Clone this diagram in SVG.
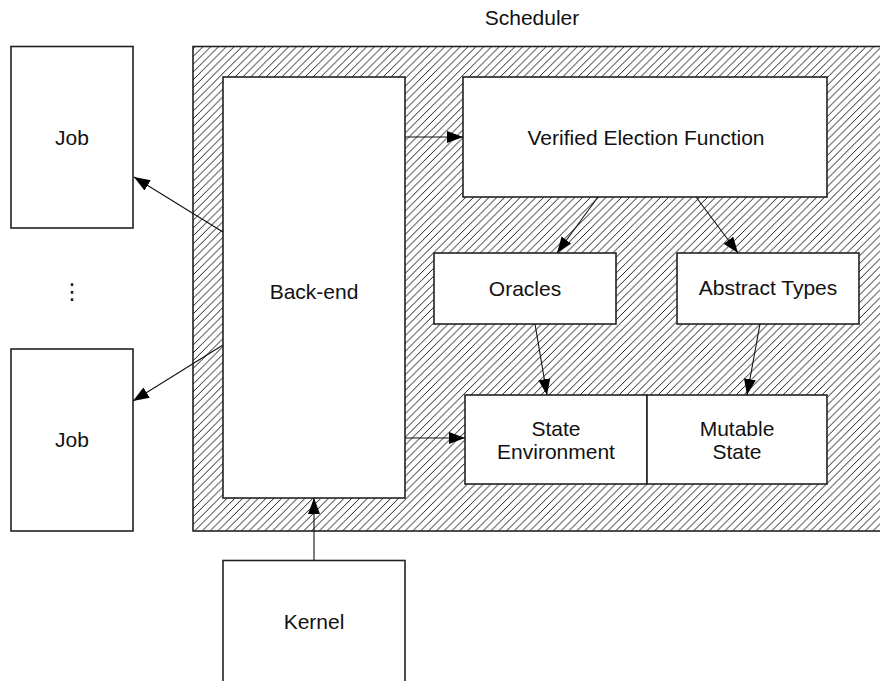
<svg xmlns="http://www.w3.org/2000/svg" width="880" height="681" viewBox="0 0 880 681">
<defs>
<pattern id="hatch" patternUnits="userSpaceOnUse" width="7.8" height="7.8">
<path d="M0,7.8 L7.8,0 M-1,1 L1,-1 M6.8,8.8 L8.8,6.8" stroke="#000" stroke-width="0.9"/>
</pattern>
<marker id="arr" markerUnits="userSpaceOnUse" markerWidth="17" markerHeight="13" refX="16" refY="6" orient="auto">
<path d="M0,0 L16,6 L0,12 z" fill="#000"/>
</marker>
<style>
.box{fill:#fff;stroke:#222;stroke-width:1.6}
.lbl{font-family:"Liberation Sans",Arial,sans-serif;font-size:21px;fill:#111;text-anchor:middle}
.con{stroke:#111;stroke-width:1.1;fill:none;marker-end:url(#arr)}
</style>
</defs>
<rect width="880" height="681" fill="#fff"/>
<g id="scheduler">
<rect x="193" y="46.5" width="700" height="484.5" fill="url(#hatch)" stroke="#222" stroke-width="1.6"/>
<text class="lbl" x="532" y="25">Scheduler</text>
</g>
<g id="job1"><rect class="box" x="11" y="46.5" width="122" height="181.5"/><text class="lbl" x="72" y="145">Job</text></g>
<g id="dots"><text class="lbl" x="72" y="299" style="font-family:'DejaVu Sans',sans-serif;font-size:22px">⋮</text></g>
<g id="job2"><rect class="box" x="11" y="349" width="122" height="182"/><text class="lbl" x="72" y="447">Job</text></g>
<g id="backend"><rect class="box" x="223" y="77" width="182" height="421"/><text class="lbl" x="314" y="299">Back-end</text></g>
<g id="vef"><rect class="box" x="463" y="77" width="364" height="120"/><text class="lbl" x="646" y="145">Verified Election Function</text></g>
<g id="oracles"><rect class="box" x="434" y="253" width="182" height="71"/><text class="lbl" x="525" y="296">Oracles</text></g>
<g id="abstract"><rect class="box" x="677" y="253" width="182" height="71"/><text class="lbl" x="768" y="295">Abstract Types</text></g>
<g id="stateenv"><rect class="box" x="465" y="395" width="182" height="89"/><text class="lbl" x="556" y="436">State</text><text class="lbl" x="556" y="459">Environment</text></g>
<g id="mutable"><rect class="box" x="647" y="395" width="180" height="89"/><text class="lbl" x="737" y="436">Mutable</text><text class="lbl" x="737" y="459">State</text></g>
<g id="kernel"><rect class="box" x="223" y="560.5" width="182" height="130"/><text class="lbl" x="314" y="629">Kernel</text></g>
<g id="connectors">
<line class="con" x1="405" y1="137" x2="463" y2="137"/>
<line class="con" x1="405" y1="438" x2="465" y2="438"/>
<line class="con" x1="598" y1="197" x2="557" y2="253"/>
<line class="con" x1="696" y1="197" x2="738" y2="253"/>
<line class="con" x1="535" y1="324" x2="547" y2="395"/>
<line class="con" x1="760" y1="324" x2="747" y2="395"/>
<line class="con" x1="223" y1="232" x2="134" y2="177"/>
<line class="con" x1="223" y1="345" x2="133" y2="401"/>
<line class="con" x1="314" y1="560.5" x2="314" y2="498"/>
</g>
</svg>
